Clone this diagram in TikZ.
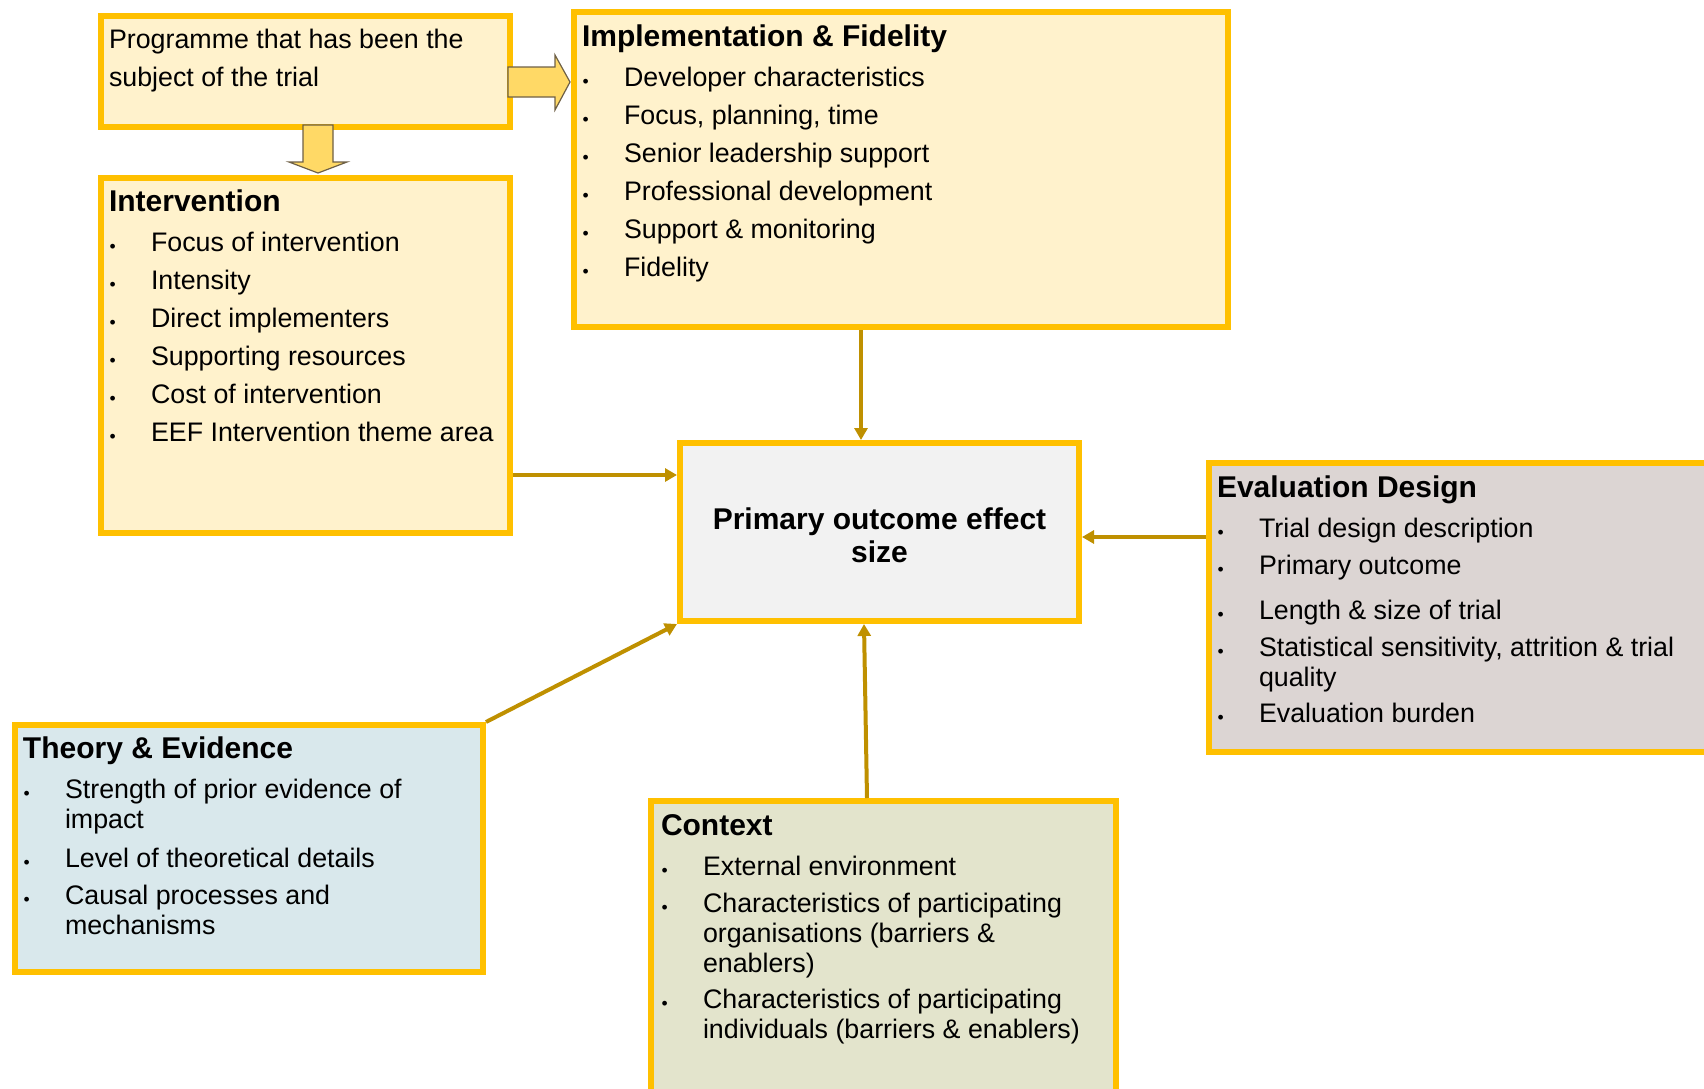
\documentclass[tikz,border=0pt]{standalone}
\usepackage{fontspec}
\setmainfont{Liberation Sans}
\usetikzlibrary{arrows.meta,calc}
\definecolor{ygold}{HTML}{FFC000}
\definecolor{lightyel}{HTML}{FFF2CC}
\definecolor{cgray}{HTML}{F2F2F2}
\definecolor{evalfill}{HTML}{DCD5D3}
\definecolor{theoryfill}{HTML}{D9E8EC}
\definecolor{ctxfill}{HTML}{E3E4CC}
\definecolor{connc}{HTML}{BF9000}
\definecolor{barrowfill}{HTML}{FFD966}
\definecolor{barrowline}{HTML}{6E6046}
\newlength\blhang \setlength\blhang{21pt}
\newcommand\bxbullet{\makebox[\blhang][l]{\hspace{0.3pt}\raisebox{-0.5pt}{\fontsize{8.8}{8.8}\selectfont\textbullet}}}
\newcommand\bxitem[2]{\par\vspace{#1}\noindent\hangindent=\blhang\hangafter=1\bxbullet#2}
\newcommand\bxhead[1]{\noindent{\fontsize{15}{15}\selectfont\bfseries #1}\par}
\newenvironment{blist}{\begin{minipage}[t]{330pt}\raggedright\parskip=0pt\parindent=0pt\lineskiplimit=-20pt\fontsize{13.4}{15}\selectfont}{\end{minipage}}
\tikzset{
  ybox/.style={draw=ygold, line width=3pt, outer sep=1.5pt, inner sep=0pt, anchor=north west, rectangle},
  conn/.style={draw=connc, line width=2pt, -{Triangle[length=6pt,width=6.5pt]}},
  barrow/.style={draw=barrowline, fill=barrowfill, line width=0.6pt, line join=miter},
  txt/.style={anchor=base west, inner sep=0pt, outer sep=0pt},
}
\begin{document}
\begin{tikzpicture}[x=0.5pt,y=-0.5pt]
\useasboundingbox (0,0) rectangle (1704,1088);
% boxes
\node[ybox, fill=lightyel, minimum width=204.5pt, minimum height=55.5pt] (prog) at (98,13) {};
\node[ybox, fill=lightyel, minimum width=204.5pt, minimum height=177.5pt] (interv) at (98,175) {};
\node[ybox, fill=lightyel, minimum width=327pt, minimum height=157.5pt] (impl) at (571,9) {};
\node[ybox, fill=cgray, minimum width=199.5pt, minimum height=89pt] (central) at (677,440) {};
\node[ybox, fill=evalfill, minimum width=259pt, minimum height=144.5pt] (eval) at (1206,460) {};
\node[ybox, fill=theoryfill, minimum width=234pt, minimum height=123.5pt] (theory) at (12,722) {};
\node[ybox, fill=ctxfill, minimum width=232.5pt, minimum height=153pt] (context) at (648,798) {};
% texts
\node[txt] (t-prog) at (109,48) {\begin{minipage}[t]{300pt}\fontsize{13.4}{19}\selectfont Programme that has been the\\subject of the trial\end{minipage}};
\node[txt] (t-interv) at (109,211) {\begin{blist}\bxhead{Intervention}%
\bxitem{5pt}{Focus of intervention}%
\bxitem{4pt}{Intensity}%
\bxitem{4pt}{Direct implementers}%
\bxitem{4pt}{Supporting resources}%
\bxitem{4pt}{Cost of intervention}%
\bxitem{4pt}{EEF Intervention theme area}\end{blist}};
\node[txt] (t-impl) at (582,46) {\begin{blist}\bxhead{Implementation \& Fidelity}%
\bxitem{5pt}{Developer characteristics}%
\bxitem{4pt}{Focus, planning, time}%
\bxitem{4pt}{Senior leadership support}%
\bxitem{4pt}{Professional development}%
\bxitem{4pt}{Support \& monitoring}%
\bxitem{4pt}{Fidelity}\end{blist}};
\node[anchor=base, inner sep=0pt] (t-central) at (879.5,529) {\begin{minipage}[t]{200pt}\centering\fontsize{15}{16.5}\selectfont\bfseries Primary outcome effect\\size\end{minipage}};
\node[txt] (t-eval) at (1217,497) {\begin{blist}\bxhead{Evaluation Design}%
\bxitem{5pt}{Trial design description}%
\bxitem{3.5pt}{Primary outcome}%
\bxitem{7.5pt}{Length \& size of trial}%
\bxitem{3.5pt}{Statistical sensitivity, attrition \& trial\newline quality}%
\bxitem{3pt}{Evaluation burden}\end{blist}};
\node[txt] (t-theory) at (23,758) {\begin{blist}\bxhead{Theory \& Evidence}%
\bxitem{5pt}{Strength of prior evidence of\newline impact}%
\bxitem{4.5pt}{Level of theoretical details}%
\bxitem{3.5pt}{Causal processes and\newline mechanisms}\end{blist}};
\node[txt] (t-context) at (661,835) {\begin{blist}\bxhead{Context}%
\bxitem{5pt}{External environment}%
\bxitem{3.5pt}{Characteristics of participating\newline organisations (barriers \&\newline enablers)}%
\bxitem{3pt}{Characteristics of participating\newline individuals (barriers \& enablers)}\end{blist}};
% block arrows
\draw[barrow] (508,67) -- (555,67) -- (555,55) -- (570,82) -- (555,110) -- (555,97) -- (508,97) -- cycle;
\draw[barrow] (303,125) -- (333,125) -- (333,162) -- (347,162) -- (318,173) -- (289,162) -- (303,162) -- cycle;
% connectors
\coordinate (x1) at (861,0);
\coordinate (y2) at (0,475);
\coordinate (y3) at (0,537);
\coordinate (c1) at (867,0);
\coordinate (c2) at (864,0);
\draw[conn] (impl.south -| x1) -- (central.north -| x1);
\draw[conn] (interv.east |- y2) -- (central.west |- y2);
\draw[conn] (eval.west |- y3) -- (central.east |- y3);
\draw[conn] (theory.north east) -- (central.south west);
\draw[conn] (context.north -| c1) -- (central.south -| c2);
\end{tikzpicture}
\end{document}
